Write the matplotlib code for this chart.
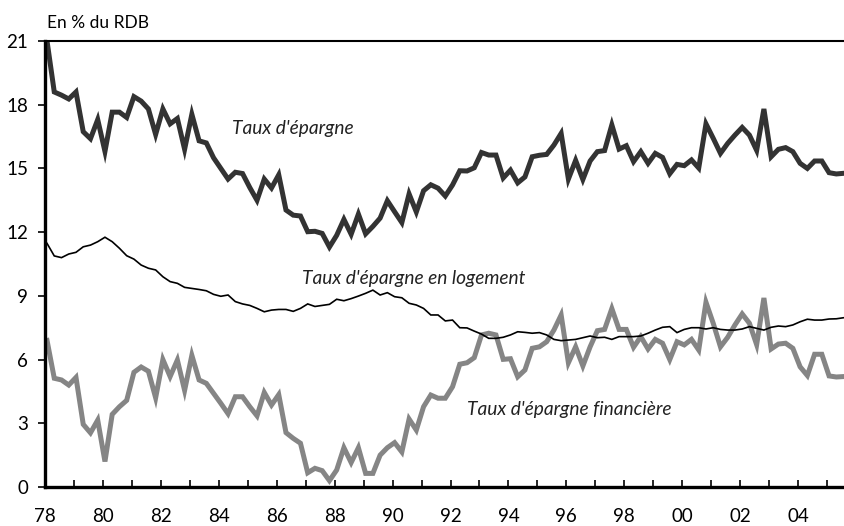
import numpy as np
import matplotlib
matplotlib.use("Agg")
import matplotlib.pyplot as plt

plt.rcParams['font.family'] = ['Lato', 'DejaVu Sans']

# quarterly series, 1978Q1 - 2005Q4, en % du RDB
taux_epargne = [
    21.0, 18.6, 18.45, 18.27, 18.6, 16.73, 16.4, 17.3, 15.8, 17.65,
    17.65, 17.4, 18.38, 18.17, 17.8, 16.6, 17.8, 17.1, 17.35, 15.9,
    17.55, 16.3, 16.2, 15.5, 15.0, 14.5, 14.82, 14.76, 14.1, 13.5,
    14.5, 14.08, 14.7, 13.04, 12.8, 12.76, 12.02, 12.04, 11.94, 11.3,
    11.85, 12.6, 11.9, 12.85, 11.92, 12.27, 12.66, 13.48, 12.96, 12.45,
    13.8, 12.95, 13.95, 14.23, 14.07, 13.7, 14.22, 14.89, 14.88, 15.03,
    15.75, 15.63, 15.63, 14.55, 14.92, 14.32, 14.6, 15.55, 15.62, 15.66,
    16.1, 16.65, 14.5, 15.38, 14.48, 15.35, 15.79, 15.84, 17.05, 15.91,
    16.07, 15.32, 15.79, 15.24, 15.71, 15.52, 14.75, 15.19, 15.13, 15.4,
    15.02, 17.1, 16.42, 15.71, 16.18, 16.57, 16.93, 16.57, 15.85, 17.8,
    15.55, 15.9, 15.98, 15.79, 15.24, 15.0, 15.35, 15.35, 14.8, 14.74,
    14.77, 14.77,
]
taux_logement = [
    11.47, 10.88, 10.8, 10.97, 11.05, 11.31, 11.39, 11.55, 11.76, 11.55,
    11.24, 10.89, 10.73, 10.45, 10.3, 10.22, 9.9, 9.67, 9.59, 9.4,
    9.35, 9.3, 9.24, 9.07, 8.98, 9.04, 8.73, 8.62, 8.55, 8.41,
    8.25, 8.33, 8.36, 8.36, 8.27, 8.41, 8.62, 8.5, 8.55, 8.6,
    8.84, 8.77, 8.87, 8.99, 9.12, 9.27, 9.04, 9.15, 8.96, 8.91,
    8.65, 8.57, 8.41, 8.1, 8.1, 7.82, 7.86, 7.5, 7.49, 7.34,
    7.2, 7.0, 7.0, 7.05, 7.16, 7.31, 7.28, 7.24, 7.27, 7.16,
    6.95, 6.89, 6.92, 6.95, 7.03, 7.11, 7.03, 7.05, 6.95, 7.08,
    7.08, 7.08, 7.11, 7.24, 7.39, 7.52, 7.55, 7.27, 7.42, 7.5,
    7.5, 7.44, 7.5, 7.42, 7.39, 7.39, 7.44, 7.55, 7.47, 7.39,
    7.52, 7.58, 7.55, 7.63, 7.78, 7.9, 7.86, 7.86, 7.91, 7.92,
    7.97, 7.98,
]
taux_financier = [
    6.9, 5.12, 5.04, 4.8, 5.16, 2.95, 2.55, 3.15, 1.2, 3.42,
    3.78, 4.08, 5.4, 5.65, 5.45, 4.2, 6.0, 5.2, 5.98, 4.55,
    6.2, 5.04, 4.88, 4.41, 3.94, 3.45, 4.25, 4.25, 3.78, 3.35,
    4.45, 3.86, 4.35, 2.56, 2.29, 2.06, 0.67, 0.88, 0.77, 0.3,
    0.8, 1.85, 1.15, 1.85, 0.64, 0.64, 1.5, 1.85, 2.09, 1.65,
    3.2, 2.68, 3.78, 4.33, 4.18, 4.18, 4.72, 5.78, 5.85, 6.09,
    7.16, 7.24, 7.16, 6.01, 6.04, 5.19, 5.51, 6.53, 6.6, 6.84,
    7.39, 8.1, 5.85, 6.6, 5.7, 6.6, 7.36, 7.42, 8.4, 7.42,
    7.42, 6.58, 7.08, 6.5, 6.95, 6.77, 6.0, 6.84, 6.69, 6.95,
    6.45, 8.7, 7.71, 6.6, 7.05, 7.63, 8.15, 7.71, 6.7, 8.9,
    6.5, 6.73, 6.77, 6.53, 5.66, 5.25, 6.25, 6.25, 5.23, 5.18,
    5.2, 5.2,
]
annees = list(range(1978, 2006))
labels_x = ["78", "80", "82", "84", "86", "88", "90", "92", "94", "96", "98", "00", "02", "04"]

t = 1978.07 + 0.25 * np.arange(len(taux_epargne))

fig = plt.figure(figsize=(8.45, 5.26), dpi=100)
ax = fig.add_axes([45 / 845, 39 / 526, 800 / 845, 446 / 526])

ax.plot(t, taux_financier, color="#858585", lw=3.6, solid_joinstyle="miter")
ax.plot(t, taux_logement, color="black", lw=1.2, solid_joinstyle="miter")
ax.plot(t, taux_epargne, color="#333333", lw=3.6, solid_joinstyle="miter")

ax.set_xlim(1978, 2005.62)
ax.set_ylim(0, 21)
ax.set_yticks(range(0, 22, 3))
ax.set_xticks(annees)
ax.set_xticklabels([labels_x[(a - 1978) // 2] if a % 2 == 0 else "" for a in annees])

ax.tick_params(axis="y", direction="out", length=5, width=1.2, pad=7, labelsize=13.5)
ax.tick_params(axis="x", direction="in", length=5, width=1.2, pad=15, labelsize=13.5)

for s in ["left", "bottom"]:
    ax.spines[s].set_linewidth(2.4)
ax.spines["top"].set_linewidth(1.5)
ax.spines["right"].set_visible(False)

kw = dict(fontsize=13.8, style="italic", color="#222222", va="center")
ax.text(1984.46, 16.9, "Taux d'épargne", **kw)
ax.text(1986.87, 9.84, "Taux d'épargne en logement", **kw)
ax.text(1992.57, 3.63, "Taux d'épargne financière", **kw)

fig.text(47 / 845, 1 - 23 / 526, "En % du RDB", fontsize=12.5, va="center", ha="left")

fig.savefig("out.png", dpi=100)
